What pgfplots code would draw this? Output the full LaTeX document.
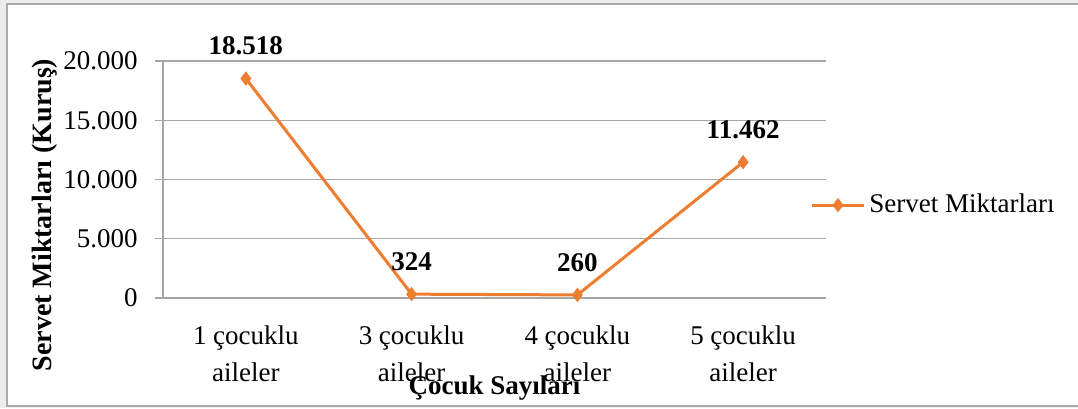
\documentclass[border=0pt]{standalone}
\usepackage{pgfplots}
\pgfplotsset{compat=1.18}
\usepackage{fontspec}
\setmainfont{Liberation Serif}
\definecolor{lineorange}{RGB}{237,125,49}
\definecolor{gridgray}{RGB}{166,166,166}
\definecolor{bandgray}{RGB}{236,236,236}
\definecolor{framegray}{RGB}{170,170,170}
\begin{document}
\fontsize{13.5pt}{16pt}\selectfont
\begin{tikzpicture}
\useasboundingbox (0,0) rectangle (539pt,204pt);
\fill[bandgray] (0,0) rectangle (539pt,204pt);
\filldraw[fill=white,draw=framegray,line width=0.8pt] (3.5pt,1pt) rectangle (545pt,202pt);
\begin{axis}[
  at={(81.5pt,55pt)}, anchor=south west,
  scale only axis, width=331.5pt, height=118.5pt,
  xmin=-0.5, xmax=3.5, ymin=0, ymax=20000,
  scaled y ticks=false,
  xtick=data,
  xticklabels={{1 çocuklu\\aileler},{3 çocuklu\\aileler},{4 çocuklu\\aileler},{5 çocuklu\\aileler}},
  xticklabel style={align=center, anchor=north, font=\fontsize{13.5pt}{18.5pt}\selectfont, yshift=-5pt},
  major x tick style={draw=none},
  ytick={0,5000,10000,15000,20000},
  yticklabel style={font=\fontsize{13.5pt}{16pt}\selectfont, xshift=-4pt},
  /pgf/number format/.cd, 1000 sep={.}, assume math mode=true, /pgfplots/.cd,
  ymajorgrids, grid style={gridgray, line width=0.6pt},
  axis line style={gridgray, line width=0.6pt},
  axis x line*=bottom, axis y line*=left,
  y axis line style={-},
  x axis line style={-, shorten <=-4pt},
  tick align=outside, major tick length=4pt,
  major y tick style={gridgray, line width=0.6pt},
  xtick pos=bottom, ytick pos=left,
  ylabel={\textbf{Servet Miktarları (Kuruş)}},
  every axis y label/.style={at={(axis description cs:-0.178,0.35)}, rotate=90, anchor=center,
    font=\fontsize{14pt}{16pt}\selectfont},
  xlabel={\textbf{Çocuk Sayıları}},
  every axis x label/.style={at={(axis description cs:0.5,0)}, anchor=center, yshift=-45pt,
    font=\fontsize{13.5pt}{16pt}\selectfont},
  legend style={at={(axis description cs:0.976,0.392)}, anchor=west, draw=none, fill=none,
    inner sep=0pt, font=\fontsize{13.5pt}{16pt}\selectfont},
  legend image code/.code={
    \draw[#1, mark=none] (0pt,0pt) -- (26pt,0pt);
    \path[#1] plot coordinates {(13pt,0pt)};
  },
  clip=false,
]
\addplot[color=lineorange, line width=1.5pt, mark=diamond*, mark size=3.2pt,
  mark options={fill=lineorange, draw=lineorange, line width=0.5pt},
  nodes near coords, point meta=explicit symbolic,
  every node near coord/.append style={font=\bfseries\fontsize{13.5pt}{16pt}\selectfont, black, anchor=south, yshift=7pt}]
  table[x=x, y=y, meta=lab] {
x y lab
0 18518 18.518
1 324 324
2 260 260
3 11462 11.462
};
\addlegendentry{Servet Miktarları}
\end{axis}
\end{tikzpicture}
\end{document}
